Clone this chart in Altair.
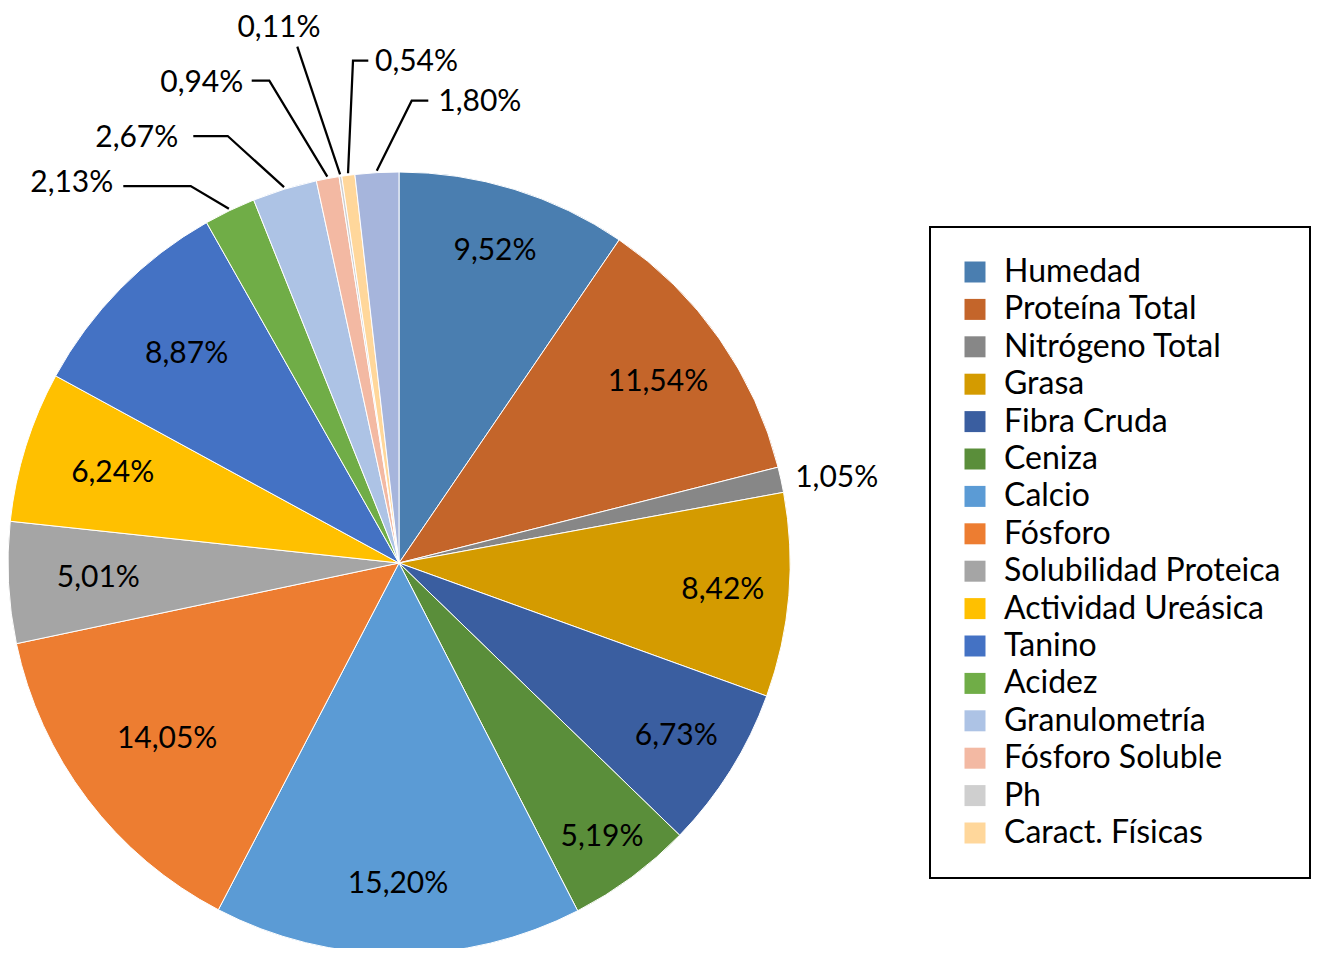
import math
import altair as alt
import pandas as pd

# ---------------- data ----------------
categories = [
    "Humedad", "Proteína Total", "Nitrógeno Total", "Grasa", "Fibra Cruda",
    "Ceniza", "Calcio", "Fósforo", "Solubilidad Proteica", "Actividad Ureásica",
    "Tanino", "Acidez", "Granulometría", "Fósforo Soluble", "Ph",
    "Caract. Físicas", "Otros",
]
values = [9.52, 11.54, 1.05, 8.42, 6.73, 5.19, 15.20, 14.05, 5.01, 6.24,
          8.87, 2.13, 2.67, 0.94, 0.11, 0.54, 1.80]
legend_categories = categories[:16]

# ---------------- styles ----------------
colors = [
    "#4A7EB0", "#C4652A", "#878787", "#D49B00", "#3A5EA0",
    "#5A8E3A", "#5B9BD5", "#ED7D31", "#A5A5A5", "#FFC000",
    "#4472C4", "#70AD47", "#ADC3E5", "#F3B9A3", "#CFCFCF",
    "#FFD79B", "#A6B5DC",
]
FONT = "Lato"
OFF = 8                     # page margin
CX, CY, R = 399 - OFF, 563 - OFF, 391

# inside-label radius per slice (0 = label drawn outside)
label_radius = [326, 316, 0, 325, 327, 341, 321, 291, 301, 300,
                298, 0, 0, 0, 0, 0, 0]

# outside labels: label anchor (page px), alignment, leader elbow/end points
outside = {
    2:  dict(lx=836.7, ly=477.5, align="center", pts=[]),
    11: dict(lx=113.3, ly=183.3, align="right", pts=[(190.7, 186), (123.3, 186)]),
    12: dict(lx=178.3, ly=138.3, align="right", pts=[(227.7, 136), (193.3, 136)]),
    13: dict(lx=243.3, ly=83.3, align="right", pts=[(269.3, 80.7), (251.7, 80.7)]),
    14: dict(lx=279.0, ly=28.0, align="center", pts=[(297.3, 46.7)]),
    15: dict(lx=375.0, ly=61.7, align="left", pts=[(353, 60.7), (368.3, 60.7)]),
    16: dict(lx=438.3, ly=101.7, align="left", pts=[(411.7, 100.7), (428.3, 100.7)]),
}


def fmt(v):
    return f"{v:.2f}".replace(".", ",") + "%"


total = sum(values)
df = pd.DataFrame({
    "cat": categories,
    "value": values,
    "idx": list(range(len(values))),
})

# mid angle of every slice, derived from the data
cum = 0.0
mids = []
for v in values:
    mids.append(2 * math.pi * (cum + v / 2) / total)
    cum += v

in_rows = []
for i, (v, r) in enumerate(zip(values, label_radius)):
    if r > 0:
        in_rows.append(dict(x=CX + r * math.sin(mids[i]),
                            y=CY - r * math.cos(mids[i]), text=fmt(v)))
in_df = pd.DataFrame(in_rows)

out_rows, line_rows = [], []
for i, spec in outside.items():
    out_rows.append(dict(x=spec["lx"] - OFF, y=spec["ly"] - OFF,
                         text=fmt(values[i]), align=spec["align"]))
    if spec["pts"]:
        a = mids[i]
        pts = [(CX + (R + 2) * math.sin(a), CY - (R + 2) * math.cos(a))]
        pts += [(px - OFF, py - OFF) for px, py in spec["pts"]]
        for k, (px, py) in enumerate(pts):
            line_rows.append(dict(lab=fmt(values[i]), o=k, x=px, y=py))
out_df = pd.DataFrame(out_rows)
line_df = pd.DataFrame(line_rows)

color_scale = alt.Scale(domain=categories, range=colors)

pie = alt.Chart(df).mark_arc(outerRadius=R, stroke="white", strokeWidth=1).encode(
    theta=alt.Theta("value:Q", stack=True),
    order=alt.Order("idx:Q"),
    x=alt.value(CX),
    y=alt.value(CY),
    color=alt.Color(
        "cat:N", scale=color_scale,
        legend=alt.Legend(
            values=legend_categories, title=None, orient="none",
            legendX=930 - OFF, legendY=227 - OFF, direction="vertical",
            symbolType="square", symbolSize=441, symbolStrokeWidth=0,
            symbolOpacity=1, labelFont=FONT, labelFontSize=32,
            labelColor="black", labelOffset=13, labelLimit=500,
            rowPadding=5.4, padding=29, strokeColor="black",
        ),
    ),
)

inner = alt.Chart(in_df).mark_text(
    font=FONT, fontSize=30, color="black", align="center", baseline="middle"
).encode(
    x=alt.X("x:Q", scale=None, axis=None),
    y=alt.Y("y:Q", scale=None, axis=None),
    text="text:N",
)

leaders = alt.Chart(line_df).mark_line(color="black", strokeWidth=2.25).encode(
    x=alt.X("x:Q", scale=None, axis=None),
    y=alt.Y("y:Q", scale=None, axis=None),
    detail="lab:N",
    order="o:Q",
)

out_layers = []
for al in ["left", "center", "right"]:
    out_layers.append(
        alt.Chart(out_df).transform_filter(alt.datum.align == al)
        .mark_text(font=FONT, fontSize=30, color="black", align=al, baseline="middle")
        .encode(x=alt.X("x:Q", scale=None, axis=None),
                y=alt.Y("y:Q", scale=None, axis=None),
                text="text:N")
    )

chart = alt.layer(pie, inner, leaders, *out_layers).properties(
    width=1308, height=940, padding=0, autosize=alt.AutoSizeParams(type="none"),
).configure_view(stroke=None).configure_legend(strokeWidth=2)

chart.save("out.html", embed_options={"renderer": "svg", "actions": False})
